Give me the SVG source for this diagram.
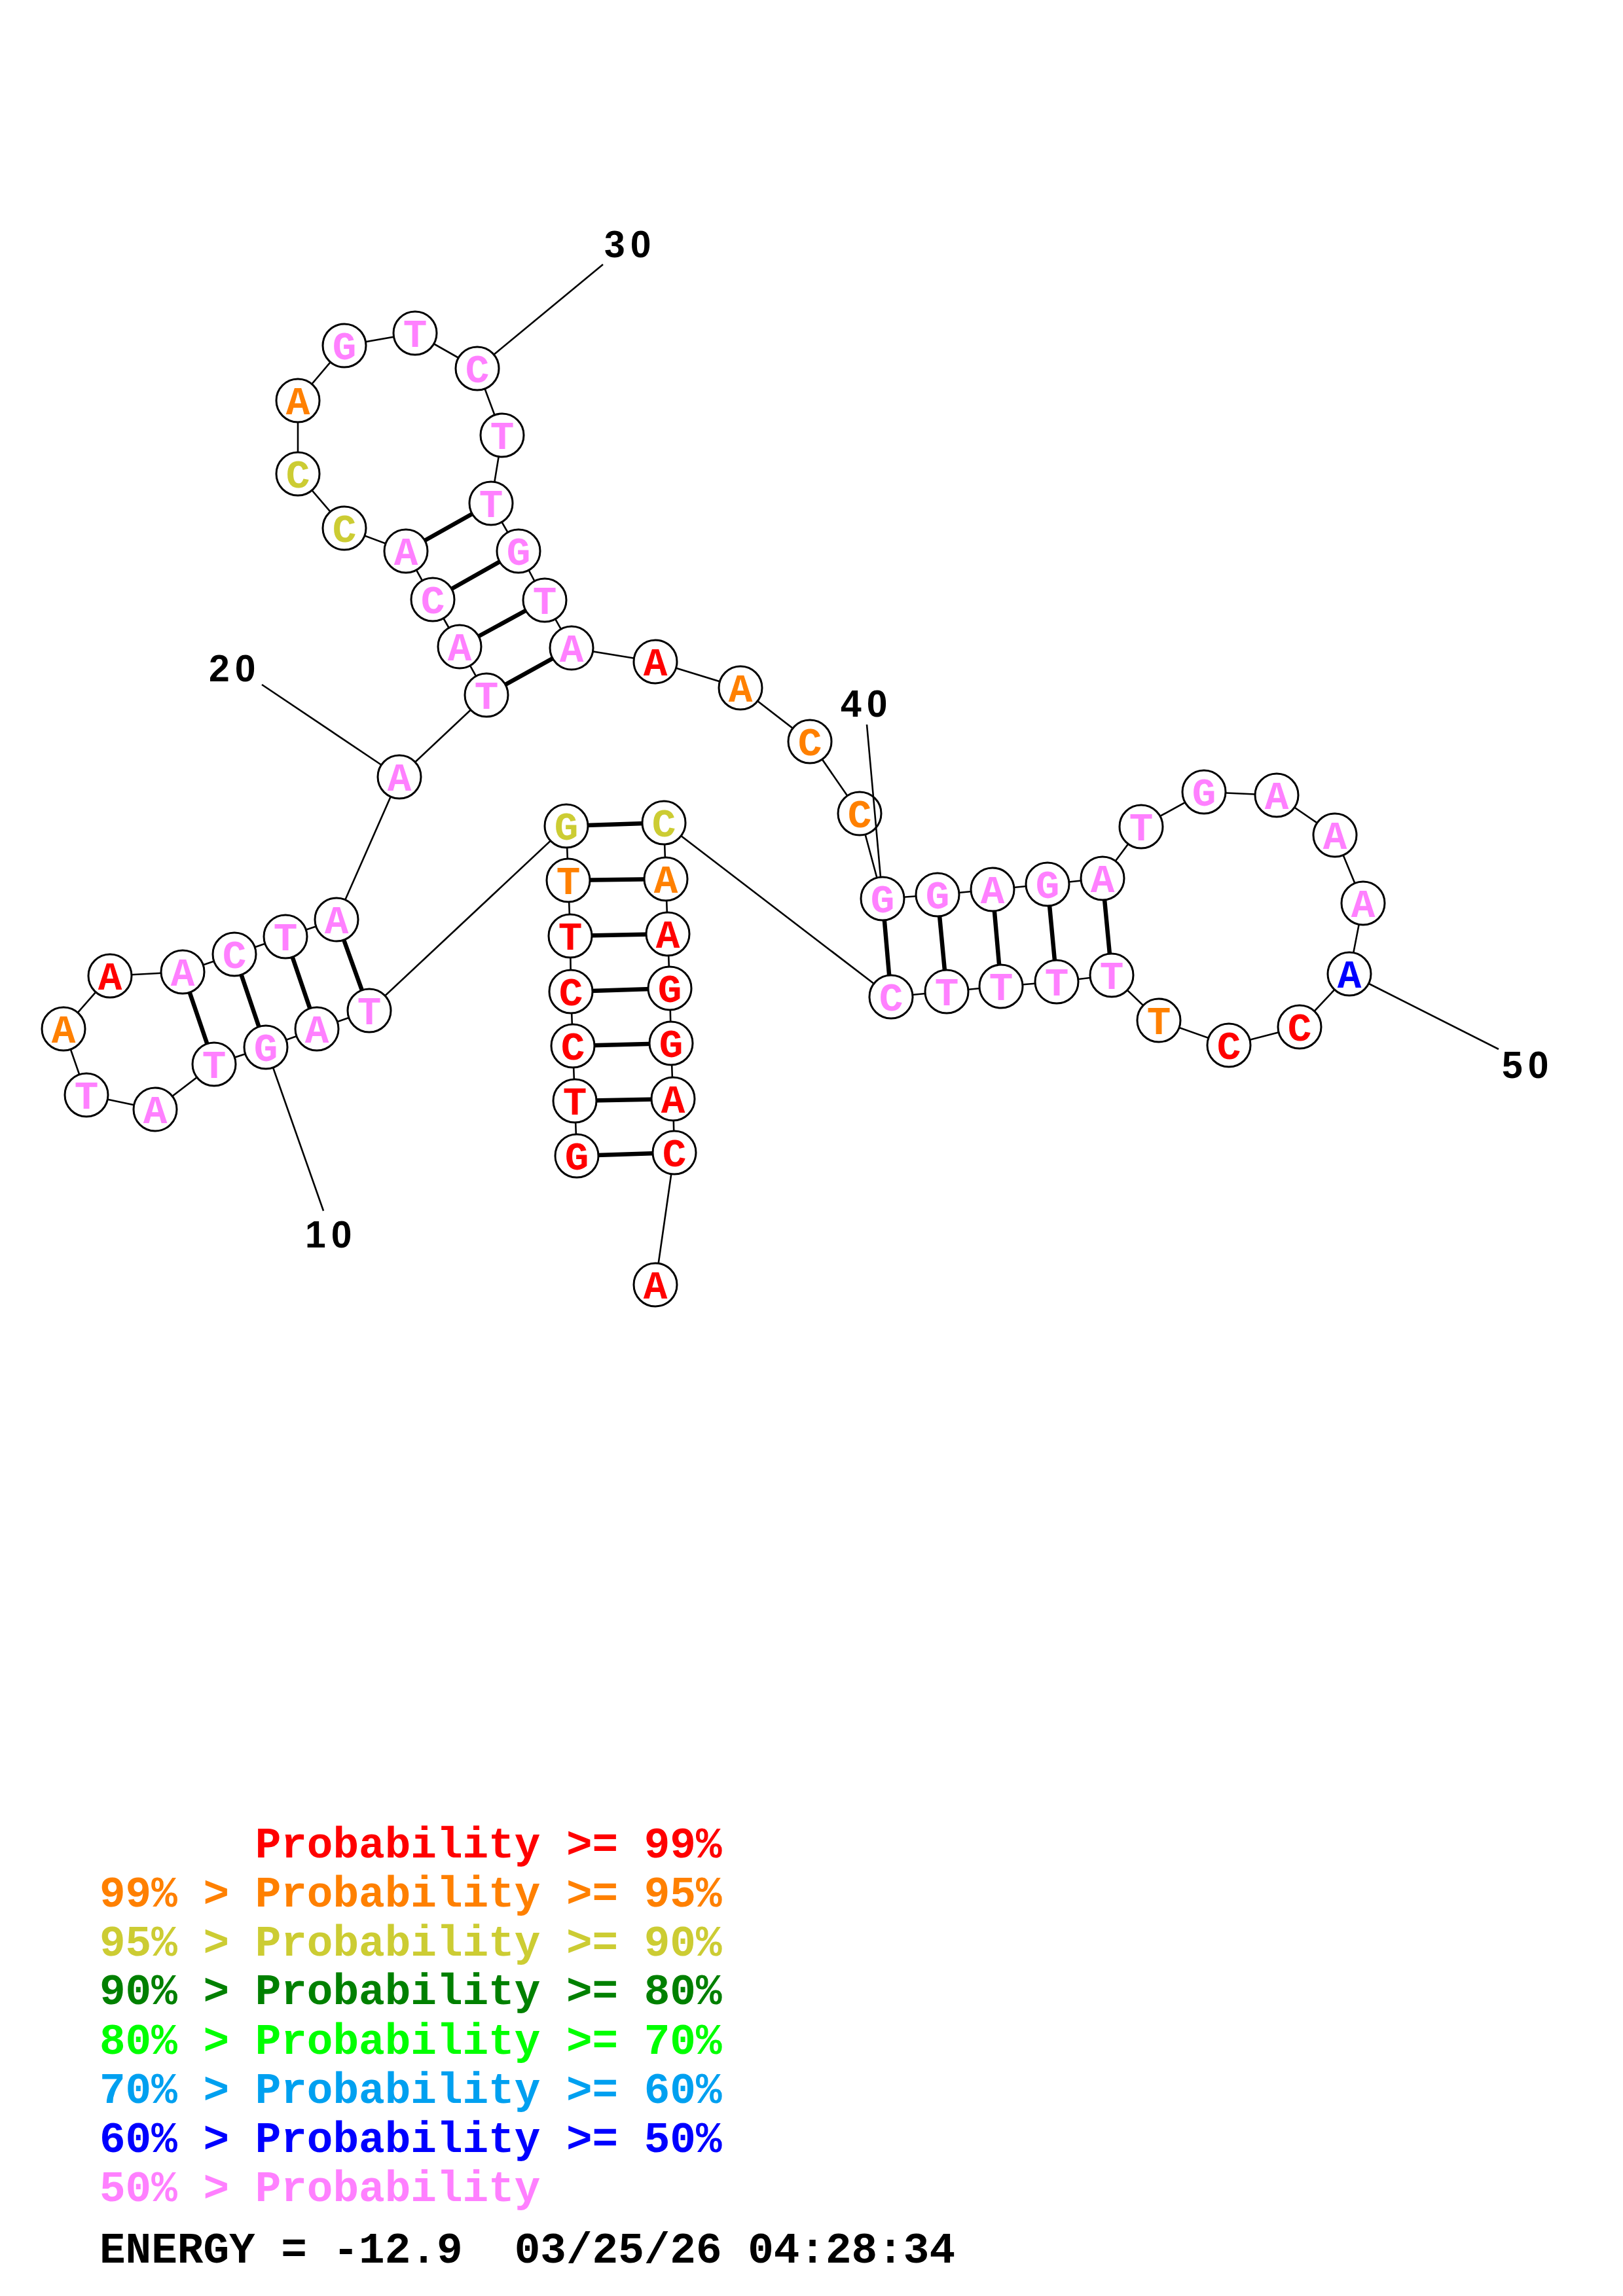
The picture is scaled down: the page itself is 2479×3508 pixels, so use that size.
<svg xmlns="http://www.w3.org/2000/svg" width="2479" height="3508" viewBox="0 0 2479 3508">
<style>
.bg{fill:#fff}
.bb{stroke:#000;stroke-width:2.6;fill:none}
.bp{stroke:#000;stroke-width:6.5;fill:none}
.lb{stroke:#000;stroke-width:2.6;fill:none}
.nc{fill:#fff;stroke:#000;stroke-width:3}
.nt{font-family:"Liberation Mono","Courier New",monospace;font-weight:bold;font-size:61px;text-anchor:middle}
.num{font-family:"Liberation Sans",Arial,sans-serif;font-weight:bold;font-size:57px;letter-spacing:8px;fill:#000}
.lg{font-family:"Liberation Mono","Courier New",monospace;font-weight:bold;font-size:66px;white-space:pre}
.r{fill:#FF0000}.o{fill:#FF8000}.y{fill:#CCCC33}.dg{fill:#008000}.lgn{fill:#00FF00}.lb2{fill:#00A0F0}.b{fill:#0000FF}.p{fill:#FF80FF}.k{fill:#000}
</style>
<rect class="bg" x="0" y="0" width="2479" height="3508"/>
<g id="connectors">
<polyline class="bb" points="881,1766 878,1682 875,1598 872,1515 871,1430 868,1345 865,1262 564,1544 484,1572 406,1600 327,1626 237,1695 132,1673 97,1572 168,1491 279,1485 358,1458 436,1431 514,1405 610,1187 743,1062 702,988 661,916 620,842 526,807 455,724 455,612 526,528 634,509 729,563 767,665 750,769 792,842 832,917 873,990 1001,1011 1131,1051 1237,1133 1313,1243 1348,1373 1432,1367 1516,1359 1600,1351 1684,1342 1743,1263 1839,1210 1950,1215 2039,1276 2082,1380 2061,1488 1985,1569 1877,1597 1770,1559 1698,1490 1614,1500 1529,1507 1446,1515 1361,1523 1014,1257 1017,1343 1020,1427 1023,1510 1025,1594 1028,1679 1030,1761 1001,1963"/>
<line class="bp" x1="881" y1="1766" x2="1030" y2="1761"/>
<line class="bp" x1="878" y1="1682" x2="1028" y2="1679"/>
<line class="bp" x1="875" y1="1598" x2="1025" y2="1594"/>
<line class="bp" x1="872" y1="1515" x2="1023" y2="1510"/>
<line class="bp" x1="871" y1="1430" x2="1020" y2="1427"/>
<line class="bp" x1="868" y1="1345" x2="1017" y2="1343"/>
<line class="bp" x1="865" y1="1262" x2="1014" y2="1257"/>
<line class="bp" x1="564" y1="1544" x2="514" y2="1405"/>
<line class="bp" x1="484" y1="1572" x2="436" y2="1431"/>
<line class="bp" x1="406" y1="1600" x2="358" y2="1458"/>
<line class="bp" x1="327" y1="1626" x2="279" y2="1485"/>
<line class="bp" x1="743" y1="1062" x2="873" y2="990"/>
<line class="bp" x1="702" y1="988" x2="832" y2="917"/>
<line class="bp" x1="661" y1="916" x2="792" y2="842"/>
<line class="bp" x1="620" y1="842" x2="750" y2="769"/>
<line class="bp" x1="1348" y1="1373" x2="1361" y2="1523"/>
<line class="bp" x1="1432" y1="1367" x2="1446" y2="1515"/>
<line class="bp" x1="1516" y1="1359" x2="1529" y2="1507"/>
<line class="bp" x1="1600" y1="1351" x2="1614" y2="1500"/>
<line class="bp" x1="1684" y1="1342" x2="1698" y2="1490"/>
</g>
<g id="n1"><circle class="nc" cx="881" cy="1766" r="33"/><text class="nt r" x="881" y="1787">G</text></g>
<g id="n2"><circle class="nc" cx="878" cy="1682" r="33"/><text class="nt r" x="878" y="1703">T</text></g>
<g id="n3"><circle class="nc" cx="875" cy="1598" r="33"/><text class="nt r" x="875" y="1619">C</text></g>
<g id="n4"><circle class="nc" cx="872" cy="1515" r="33"/><text class="nt r" x="872" y="1536">C</text></g>
<g id="n5"><circle class="nc" cx="871" cy="1430" r="33"/><text class="nt r" x="871" y="1451">T</text></g>
<g id="n6"><circle class="nc" cx="868" cy="1345" r="33"/><text class="nt o" x="868" y="1366">T</text></g>
<g id="n7"><circle class="nc" cx="865" cy="1262" r="33"/><text class="nt y" x="865" y="1283">G</text></g>
<g id="n8"><circle class="nc" cx="564" cy="1544" r="33"/><text class="nt p" x="564" y="1565">T</text></g>
<g id="n9"><circle class="nc" cx="484" cy="1572" r="33"/><text class="nt p" x="484" y="1593">A</text></g>
<g id="n10"><circle class="nc" cx="406" cy="1600" r="33"/><text class="nt p" x="406" y="1621">G</text></g>
<g id="n11"><circle class="nc" cx="327" cy="1626" r="33"/><text class="nt p" x="327" y="1647">T</text></g>
<g id="n12"><circle class="nc" cx="237" cy="1695" r="33"/><text class="nt p" x="237" y="1716">A</text></g>
<g id="n13"><circle class="nc" cx="132" cy="1673" r="33"/><text class="nt p" x="132" y="1694">T</text></g>
<g id="n14"><circle class="nc" cx="97" cy="1572" r="33"/><text class="nt o" x="97" y="1593">A</text></g>
<g id="n15"><circle class="nc" cx="168" cy="1491" r="33"/><text class="nt r" x="168" y="1512">A</text></g>
<g id="n16"><circle class="nc" cx="279" cy="1485" r="33"/><text class="nt p" x="279" y="1506">A</text></g>
<g id="n17"><circle class="nc" cx="358" cy="1458" r="33"/><text class="nt p" x="358" y="1479">C</text></g>
<g id="n18"><circle class="nc" cx="436" cy="1431" r="33"/><text class="nt p" x="436" y="1452">T</text></g>
<g id="n19"><circle class="nc" cx="514" cy="1405" r="33"/><text class="nt p" x="514" y="1426">A</text></g>
<g id="n20"><circle class="nc" cx="610" cy="1187" r="33"/><text class="nt p" x="610" y="1208">A</text></g>
<g id="n21"><circle class="nc" cx="743" cy="1062" r="33"/><text class="nt p" x="743" y="1083">T</text></g>
<g id="n22"><circle class="nc" cx="702" cy="988" r="33"/><text class="nt p" x="702" y="1009">A</text></g>
<g id="n23"><circle class="nc" cx="661" cy="916" r="33"/><text class="nt p" x="661" y="937">C</text></g>
<g id="n24"><circle class="nc" cx="620" cy="842" r="33"/><text class="nt p" x="620" y="863">A</text></g>
<g id="n25"><circle class="nc" cx="526" cy="807" r="33"/><text class="nt y" x="526" y="828">C</text></g>
<g id="n26"><circle class="nc" cx="455" cy="724" r="33"/><text class="nt y" x="455" y="745">C</text></g>
<g id="n27"><circle class="nc" cx="455" cy="612" r="33"/><text class="nt o" x="455" y="633">A</text></g>
<g id="n28"><circle class="nc" cx="526" cy="528" r="33"/><text class="nt p" x="526" y="549">G</text></g>
<g id="n29"><circle class="nc" cx="634" cy="509" r="33"/><text class="nt p" x="634" y="530">T</text></g>
<g id="n30"><circle class="nc" cx="729" cy="563" r="33"/><text class="nt p" x="729" y="584">C</text></g>
<g id="n31"><circle class="nc" cx="767" cy="665" r="33"/><text class="nt p" x="767" y="686">T</text></g>
<g id="n32"><circle class="nc" cx="750" cy="769" r="33"/><text class="nt p" x="750" y="790">T</text></g>
<g id="n33"><circle class="nc" cx="792" cy="842" r="33"/><text class="nt p" x="792" y="863">G</text></g>
<g id="n34"><circle class="nc" cx="832" cy="917" r="33"/><text class="nt p" x="832" y="938">T</text></g>
<g id="n35"><circle class="nc" cx="873" cy="990" r="33"/><text class="nt p" x="873" y="1011">A</text></g>
<g id="n36"><circle class="nc" cx="1001" cy="1011" r="33"/><text class="nt r" x="1001" y="1032">A</text></g>
<g id="n37"><circle class="nc" cx="1131" cy="1051" r="33"/><text class="nt o" x="1131" y="1072">A</text></g>
<g id="n38"><circle class="nc" cx="1237" cy="1133" r="33"/><text class="nt o" x="1237" y="1154">C</text></g>
<g id="n39"><circle class="nc" cx="1313" cy="1243" r="33"/><text class="nt o" x="1313" y="1264">C</text></g>
<g id="n40"><circle class="nc" cx="1348" cy="1373" r="33"/><text class="nt p" x="1348" y="1394">G</text></g>
<g id="n41"><circle class="nc" cx="1432" cy="1367" r="33"/><text class="nt p" x="1432" y="1388">G</text></g>
<g id="n42"><circle class="nc" cx="1516" cy="1359" r="33"/><text class="nt p" x="1516" y="1380">A</text></g>
<g id="n43"><circle class="nc" cx="1600" cy="1351" r="33"/><text class="nt p" x="1600" y="1372">G</text></g>
<g id="n44"><circle class="nc" cx="1684" cy="1342" r="33"/><text class="nt p" x="1684" y="1363">A</text></g>
<g id="n45"><circle class="nc" cx="1743" cy="1263" r="33"/><text class="nt p" x="1743" y="1284">T</text></g>
<g id="n46"><circle class="nc" cx="1839" cy="1210" r="33"/><text class="nt p" x="1839" y="1231">G</text></g>
<g id="n47"><circle class="nc" cx="1950" cy="1215" r="33"/><text class="nt p" x="1950" y="1236">A</text></g>
<g id="n48"><circle class="nc" cx="2039" cy="1276" r="33"/><text class="nt p" x="2039" y="1297">A</text></g>
<g id="n49"><circle class="nc" cx="2082" cy="1380" r="33"/><text class="nt p" x="2082" y="1401">A</text></g>
<g id="n50"><circle class="nc" cx="2061" cy="1488" r="33"/><text class="nt b" x="2061" y="1509">A</text></g>
<g id="n51"><circle class="nc" cx="1985" cy="1569" r="33"/><text class="nt r" x="1985" y="1590">C</text></g>
<g id="n52"><circle class="nc" cx="1877" cy="1597" r="33"/><text class="nt r" x="1877" y="1618">C</text></g>
<g id="n53"><circle class="nc" cx="1770" cy="1559" r="33"/><text class="nt o" x="1770" y="1580">T</text></g>
<g id="n54"><circle class="nc" cx="1698" cy="1490" r="33"/><text class="nt p" x="1698" y="1511">T</text></g>
<g id="n55"><circle class="nc" cx="1614" cy="1500" r="33"/><text class="nt p" x="1614" y="1521">T</text></g>
<g id="n56"><circle class="nc" cx="1529" cy="1507" r="33"/><text class="nt p" x="1529" y="1528">T</text></g>
<g id="n57"><circle class="nc" cx="1446" cy="1515" r="33"/><text class="nt p" x="1446" y="1536">T</text></g>
<g id="n58"><circle class="nc" cx="1361" cy="1523" r="33"/><text class="nt p" x="1361" y="1544">C</text></g>
<g id="n59"><circle class="nc" cx="1014" cy="1257" r="33"/><text class="nt y" x="1014" y="1278">C</text></g>
<g id="n60"><circle class="nc" cx="1017" cy="1343" r="33"/><text class="nt o" x="1017" y="1364">A</text></g>
<g id="n61"><circle class="nc" cx="1020" cy="1427" r="33"/><text class="nt r" x="1020" y="1448">A</text></g>
<g id="n62"><circle class="nc" cx="1023" cy="1510" r="33"/><text class="nt r" x="1023" y="1531">G</text></g>
<g id="n63"><circle class="nc" cx="1025" cy="1594" r="33"/><text class="nt r" x="1025" y="1615">G</text></g>
<g id="n64"><circle class="nc" cx="1028" cy="1679" r="33"/><text class="nt r" x="1028" y="1700">A</text></g>
<g id="n65"><circle class="nc" cx="1030" cy="1761" r="33"/><text class="nt r" x="1030" y="1782">C</text></g>
<g id="n66"><circle class="nc" cx="1001" cy="1963" r="33"/><text class="nt r" x="1001" y="1984">A</text></g>
<g id="labels">
<line class="lb" x1="417" y1="1631" x2="494" y2="1850"/>
<text class="num" x="466" y="1906">10</text>
<line class="lb" x1="583" y1="1169" x2="400" y2="1046"/>
<text class="num" x="319" y="1041">20</text>
<line class="lb" x1="754" y1="542" x2="921" y2="404"/>
<text class="num" x="923" y="393">30</text>
<line class="lb" x1="1345" y1="1340" x2="1324" y2="1107"/>
<text class="num" x="1284" y="1095">40</text>
<line class="lb" x1="2091" y1="1503" x2="2289" y2="1603"/>
<text class="num" x="2294" y="1647">50</text>
</g>
<g id="legend">
<text class="lg r" x="152" y="2838">      Probability &gt;= 99%</text>
<text class="lg o" x="152" y="2913">99% &gt; Probability &gt;= 95%</text>
<text class="lg y" x="152" y="2988">95% &gt; Probability &gt;= 90%</text>
<text class="lg dg" x="152" y="3062">90% &gt; Probability &gt;= 80%</text>
<text class="lg lgn" x="152" y="3138">80% &gt; Probability &gt;= 70%</text>
<text class="lg lb2" x="152" y="3213">70% &gt; Probability &gt;= 60%</text>
<text class="lg b" x="152" y="3288">60% &gt; Probability &gt;= 50%</text>
<text class="lg p" x="152" y="3363">50% &gt; Probability</text>
<text class="lg k" x="152" y="3457">ENERGY = -12.9  03/25/26 04:28:34</text>
</g>
</svg>
